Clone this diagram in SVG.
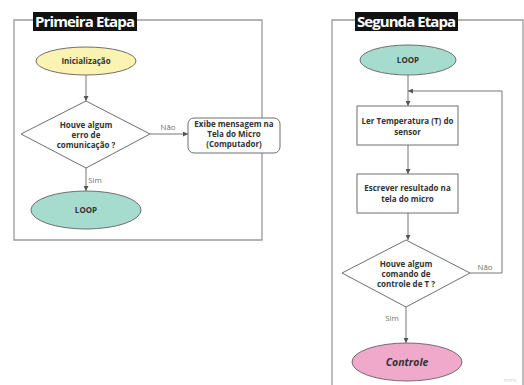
<svg xmlns="http://www.w3.org/2000/svg" width="524" height="385" viewBox="0 0 524 385">
<defs>
<marker id="ah" viewBox="0 0 10 10" refX="10" refY="5" markerWidth="5" markerHeight="5" orient="auto">
<path d="M0,0 L10,5 L0,10 z" fill="#555"/>
</marker>
<style>
.frame{fill:none;stroke:#9a9a9a;stroke-width:1.3}
.ttl{fill:#ffffff;font-family:"Open Sans","DejaVu Sans",sans-serif;font-weight:700;font-size:15px}
.shape{stroke:#6f6f6f;stroke-width:1}
.t{font-family:"Open Sans","Liberation Sans",sans-serif;font-weight:700;font-size:8px;fill:#333;text-anchor:middle}
.lbl{font-family:"Open Sans","Liberation Sans",sans-serif;font-size:7.8px;fill:#707070;text-anchor:middle}
.c{fill:none;stroke:#777;stroke-width:1}
</style>
</defs>
<rect width="524" height="385" fill="#ffffff"/>

<g id="frame1">
<path class="frame" d="M33,20 H14 V240 H262 V20 H137"/>
<rect x="33" y="12" width="104" height="19" fill="#111"/>
<text class="ttl" x="85" y="27" text-anchor="middle" textLength="100">Primeira Etapa</text>
</g>
<g id="frame2">
<path class="frame" d="M355,20 H332 V385 M523,385 V20 H458"/>
<rect x="355" y="12" width="103" height="19" fill="#111"/>
<text class="ttl" x="406.5" y="27" text-anchor="middle" textLength="99">Segunda Etapa</text>
</g>

<g id="connectors">
<line class="c" x1="86" y1="75" x2="86" y2="101" marker-end="url(#ah)"/>
<line class="c" x1="150" y1="134" x2="188" y2="134" marker-end="url(#ah)"/>
<line class="c" x1="86" y1="168" x2="86" y2="191" marker-end="url(#ah)"/>
<line class="c" x1="408" y1="75" x2="408" y2="106" marker-end="url(#ah)"/>
<line class="c" x1="408" y1="145" x2="408" y2="174" marker-end="url(#ah)"/>
<line class="c" x1="408" y1="213" x2="408" y2="240" marker-end="url(#ah)"/>
<path class="c" d="M470,273 H502 V91 H408" marker-end="url(#ah)"/>
<line class="c" x1="406" y1="307" x2="406" y2="343" marker-end="url(#ah)"/>
<rect x="160" y="122" width="17" height="9" fill="#fff"/>
<text class="lbl" x="168" y="130">Não</text>
<rect x="87" y="175" width="16" height="9" fill="#fff"/>
<text class="lbl" x="95" y="183">Sim</text>
<text class="lbl" x="485" y="270">Não</text>
<rect x="384" y="313" width="16" height="9" fill="#fff"/>
<text class="lbl" x="392" y="321">Sim</text>
</g>

<g id="inicializacao">
<ellipse class="shape" cx="86" cy="61" rx="50" ry="14" fill="#fbf3b2"/>
<text class="t" x="86" y="64">Inicialização</text>
</g>
<g id="decisao1">
<polygon class="shape" points="86,101 150,134 86,168 21,134" fill="#fff"/>
<text class="t" x="86" y="128">Houve algum</text>
<text class="t" x="86" y="138">erro de</text>
<text class="t" x="86" y="148">comunicação ?</text>
</g>
<g id="exibe">
<rect class="shape" x="188" y="118" width="92" height="35" rx="6" fill="#fff"/>
<text class="t" x="234" y="127">Exibe mensagem na</text>
<text class="t" x="234" y="137">Tela do Micro</text>
<text class="t" x="234" y="147">(Computador)</text>
</g>
<g id="loop1">
<ellipse class="shape" cx="86" cy="210" rx="55" ry="19" fill="#a6dccd"/>
<text class="t" x="86" y="213">LOOP</text>
</g>

<g id="loop2">
<ellipse class="shape" cx="408" cy="60" rx="48" ry="15" fill="#a6dccd"/>
<text class="t" x="408" y="63">LOOP</text>
</g>
<g id="ler">
<rect class="shape" x="357" y="106" width="101" height="39" fill="#fff"/>
<text class="t" x="407.5" y="124">Ler Temperatura (T) do</text>
<text class="t" x="407.5" y="135">sensor</text>
</g>
<g id="escrever">
<rect class="shape" x="357" y="174" width="101" height="39" fill="#fff"/>
<text class="t" x="407.5" y="191">Escrever resultado na</text>
<text class="t" x="407.5" y="202">tela do micro</text>
</g>
<g id="decisao2">
<polygon class="shape" points="406,240 470,273 406,307 342,273" fill="#fff"/>
<text class="t" x="406" y="267">Houve algum</text>
<text class="t" x="406" y="277">comando de</text>
<text class="t" x="406" y="287">controle de T ?</text>
</g>
<g id="controle">
<ellipse class="shape" cx="407" cy="362" rx="55" ry="19" fill="#f0a9cb"/>
<text class="t" x="407" y="366" style="font-size:10.5px;font-style:italic">Controle</text>
</g>
<text x="510" y="382" style="font-family:'Open Sans',sans-serif;font-size:6px;fill:#d0d0d0;text-anchor:middle">miro</text>
</svg>
